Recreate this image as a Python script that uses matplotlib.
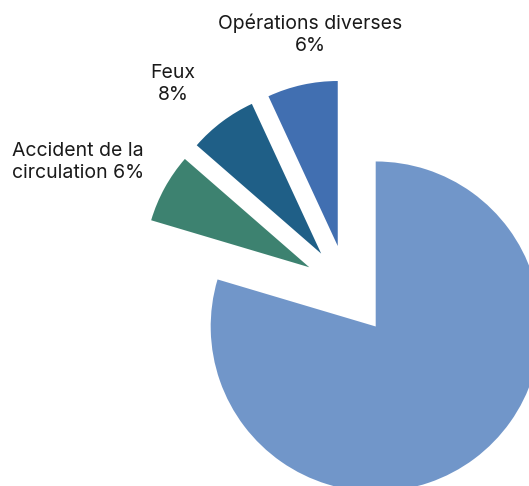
import matplotlib.pyplot as plt

# données (le grand secteur n'a pas d'étiquette) ; parts lues sur les angles du dessin
labels = ["Opérations diverses\n6%", "Feux\n8%", "Accident de la\ncirculation 6%", ""]
values = [6.9, 6.7, 6.8, 79.6]
colors = ["#416fb1", "#1f5f87", "#3d8270", "#7196c9"]
explode = [43, 43, 43, 48]  # en pixels (unités des données)

W, H = 529, 486
fig = plt.figure(figsize=(W / 100, H / 100), dpi=100)
ax = fig.add_axes([0, 0, 1, 1])

R = 165
center = (347, H - 288)
wedges, _ = ax.pie(values, colors=colors, explode=explode, startangle=90,
                   counterclock=True, radius=R, center=center, frame=True,
                   wedgeprops=dict(linewidth=0))
ax.set_xlim(0, W)
ax.set_ylim(0, H)
ax.set_aspect("equal")
ax.axis("off")

# étiquettes placées à la main comme dans l'original
label_pos = [(310, H - 34), (173, H - 84), (78, H - 162)]
for txt, (x, y) in zip(labels[:3], label_pos):
    ax.text(x, y, txt, ha="center", va="center", fontsize=14,
            family="Inter", color="#1a1a1a", linespacing=1.3)

fig.savefig("out.png", dpi=100)
